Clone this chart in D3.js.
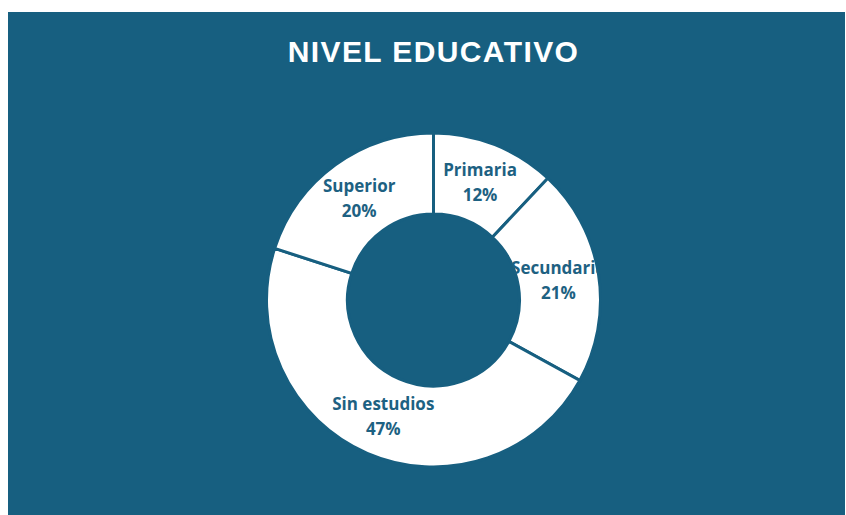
<!DOCTYPE html>
<html>
<head>
<meta charset="utf-8">
<script src="https://cdn.jsdelivr.net/npm/d3@7"></script>
<style>
  html, body { margin: 0; padding: 0; background: #ffffff; }
  svg { display: block; }
</style>
</head>
<body>
<svg id="chart" width="846" height="515"></svg>
<script>
const title = "NIVEL EDUCATIVO";
const categories = ["Primaria", "Secundaria", "Sin estudios", "Superior"];
const values = [12, 21, 47, 20];

const W = 846, H = 515;
const bg = "#175f80";
const textColor = "#1d6182";
const cx = 433.5, cy = 300;
const outerR = 167, innerR = 86;

const svg = d3.select("#chart");

svg.append("rect")
  .attr("x", 8).attr("y", 12)
  .attr("width", W - 8 - 1).attr("height", H - 12)
  .attr("fill", bg);

svg.append("text")
  .attr("x", cx).attr("y", 62)
  .attr("text-anchor", "middle")
  .attr("fill", "#ffffff")
  .style("font-family", "'Liberation Sans', Arial, sans-serif")
  .style("font-weight", "700")
  .style("font-size", "30px")
  .style("letter-spacing", "1.4px")
  .text(title);

const data = categories.map((c, i) => ({ cat: c, value: values[i] }));
const pie = d3.pie().value(d => d.value).sort(null);
const arcs = pie(data);
const arc = d3.arc().innerRadius(innerR).outerRadius(outerR);

const g = svg.append("g").attr("transform", `translate(${cx},${cy})`);

const defs = svg.append("defs");
arcs.forEach((a, i) => {
  defs.append("clipPath").attr("id", "clip" + i)
    .append("path").attr("d", arc(a));
});

g.selectAll("path.slice")
  .data(arcs)
  .join("path")
  .attr("class", "slice")
  .attr("d", arc)
  .attr("fill", "#ffffff")
  .attr("stroke", bg)
  .attr("stroke-width", 3)
  .attr("stroke-linejoin", "miter");

const total = d3.sum(values);
const labels = g.selectAll("g.lbl")
  .data(arcs)
  .join("g")
  .attr("class", "lbl")
  .attr("clip-path", (d, i) => `url(#clip${i})`);

labels.each(function(d) {
  const [x, y] = arc.centroid(d);
  const sel = d3.select(this);
  const t = sel.append("text")
    .attr("text-anchor", "middle")
    .attr("fill", textColor)
    .style("font-family", "'Open Sans', 'Liberation Sans', sans-serif")
    .style("font-weight", "700")
    .style("font-size", "17px");
  t.append("tspan").attr("x", x).attr("y", y - 6).text(d.data.cat);
  t.append("tspan").attr("x", x).attr("y", y + 19)
    .text(Math.round(d.data.value / total * 100) + "%");
});
</script>
</body>
</html>
